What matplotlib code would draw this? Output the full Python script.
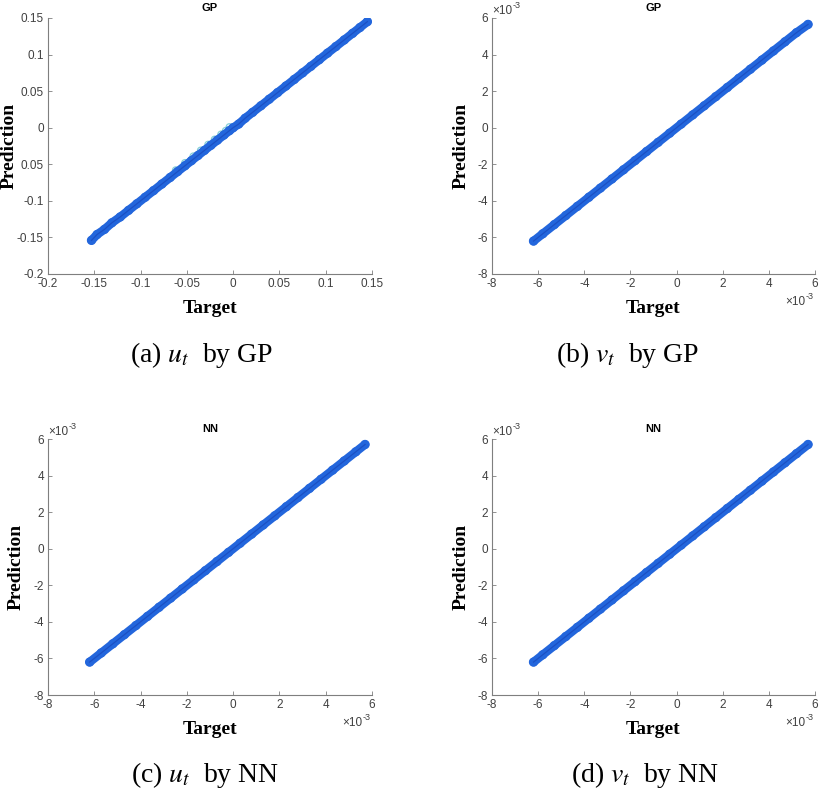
import numpy as np
import matplotlib.pyplot as plt

plt.rcParams['mathtext.fontset'] = 'stix'

# (a) u_t by GP
gp_u_target = [-0.153, -0.147, -0.139, -0.131, -0.122, -0.113, -0.104, -0.095, -0.086,
               -0.077, -0.068, -0.060, -0.052, -0.045, -0.038, -0.031, -0.024, -0.017,
               -0.010, -0.004, 0.000, 0.006, 0.013, 0.021, 0.030, 0.039, 0.048, 0.057,
               0.066, 0.075, 0.084, 0.093, 0.102, 0.111, 0.120, 0.129, 0.137, 0.145]
gp_u_pred = [-0.154, -0.146, -0.139, -0.130, -0.122, -0.113, -0.104, -0.095, -0.086,
             -0.077, -0.068, -0.060, -0.052, -0.045, -0.038, -0.031, -0.024, -0.017,
             -0.010, -0.004, 0.000, 0.005, 0.013, 0.021, 0.030, 0.039, 0.048, 0.057,
             0.066, 0.075, 0.084, 0.093, 0.102, 0.111, 0.120, 0.129, 0.137, 0.145]
gp_u_out_target = [-0.062, -0.052, -0.043, -0.035, -0.027, -0.020, -0.013, -0.008, -0.004]
gp_u_out_pred = [-0.058, -0.048, -0.039, -0.031, -0.023, -0.016, -0.009, -0.004, 0.001]

# (b), (c), (d): values in units of 1e-3
gp_v_target = [-6.2, -5.8, -5.3, -4.8, -4.3, -3.8, -3.3, -2.8, -2.3, -1.8, -1.3, -0.8,
               -0.3, 0.2, 0.7, 1.2, 1.7, 2.2, 2.7, 3.2, 3.7, 4.2, 4.7, 5.2, 5.7]
gp_v_pred = [-6.2, -5.8, -5.3, -4.8, -4.3, -3.8, -3.3, -2.8, -2.3, -1.8, -1.3, -0.8,
             -0.3, 0.2, 0.7, 1.2, 1.7, 2.2, 2.7, 3.2, 3.7, 4.2, 4.7, 5.2, 5.65]
nn_u_target = [-6.2, -5.7, -5.2, -4.7, -4.2, -3.7, -3.2, -2.7, -2.2, -1.7, -1.2, -0.7,
               -0.2, 0.3, 0.8, 1.3, 1.8, 2.3, 2.8, 3.3, 3.8, 4.3, 4.8, 5.3, 5.7]
nn_u_pred = [-6.2, -5.7, -5.2, -4.7, -4.2, -3.7, -3.2, -2.7, -2.2, -1.7, -1.2, -0.7,
             -0.2, 0.3, 0.8, 1.3, 1.8, 2.3, 2.8, 3.3, 3.8, 4.3, 4.8, 5.3, 5.7]
nn_v_target = [-6.2, -5.8, -5.3, -4.8, -4.3, -3.8, -3.3, -2.8, -2.3, -1.8, -1.3, -0.8,
               -0.3, 0.2, 0.7, 1.2, 1.7, 2.2, 2.7, 3.2, 3.7, 4.2, 4.7, 5.2, 5.7]
nn_v_pred = [-6.2, -5.8, -5.3, -4.8, -4.3, -3.8, -3.3, -2.8, -2.3, -1.8, -1.3, -0.8,
             -0.3, 0.2, 0.7, 1.2, 1.7, 2.2, 2.7, 3.2, 3.7, 4.2, 4.7, 5.2, 5.7]

u_ticks = [-0.2, -0.15, -0.1, -0.05, 0, 0.05, 0.1, 0.15]
u_xlabels = ['-0.2', '-0.15', '-0.1', '-0.05', '0', '0.05', '0.1', '0.15']
u_ylabels = ['-0.2', '-0.15', '-0.1', '0.05', '0', '0.05', '0.1', '0.15']
v_ticks = [-8, -6, -4, -2, 0, 2, 4, 6]
v_labels = ['-8', '-6', '-4', '-2', '0', '2', '4', '6']

blue = '#2366dc'
dark = '#1b50c4'
gray = '#7f7f7f'
tick_col = '#404040'

fig = plt.figure(figsize=(8.25, 7.99), dpi=100)

W, H = 825, 799
boxes = {'a': (48, 18, 372, 274), 'b': (492, 18, 815, 274),
         'c': (48, 439, 372, 695), 'd': (492, 439, 815, 695)}
# right edge of the rotated "Prediction" label, in axes fraction
ylab_x = {'a': -0.093, 'b': -0.068, 'c': -0.071, 'd': -0.068}


def make_ax(key):
    x0, y0, x1, y1 = boxes[key]
    ax = fig.add_axes([x0 / W, 1 - y1 / H, (x1 - x0) / W, (y1 - y0) / H])
    for s in ['top', 'right']:
        ax.spines[s].set_visible(False)
    for s in ['left', 'bottom']:
        ax.spines[s].set_color(gray)
        ax.spines[s].set_linewidth(0.8)
    ax.tick_params(direction='in', length=3, width=0.6, color=gray,
                   labelsize=8.5, labelcolor=tick_col, pad=3)
    return ax


def draw(ax, key, t, p, title):
    ax.plot(t, p, color=blue, lw=6.2, solid_capstyle='round', zorder=2)
    ax.scatter(t, p, s=28, facecolors='none', edgecolors=blue, linewidths=1.4, zorder=3)
    ax.plot(t, p, color=dark, lw=0.9, zorder=4)
    ax.set_title(title, fontsize=8, fontweight='bold', family='Liberation Sans', pad=5)
    ax.set_xlabel('Target', fontsize=14, fontweight='bold', family='Liberation Serif')
    ax.set_ylabel('Prediction', fontsize=14, fontweight='bold', family='Liberation Serif')
    ax.xaxis.set_label_coords(0.5, -0.10)
    ax.yaxis.set_label_coords(ylab_x[key], 0.5)


def scale_marks(ax):
    # "x10^-3" exponent labels, drawn as plain sans text
    for xa, ya, ha, va in [(0.0, 1.005, 'left', 'bottom'), (0.97, -0.085, 'right', 'top')]:
        t = ax.text(xa, ya, '\u00d710', transform=ax.transAxes, fontsize=8.5,
                    color=tick_col, ha=ha, va=va, family='Liberation Sans')
        ax.annotate('-3', xy=(1, 1), xycoords=t, fontsize=6.5, color=tick_col,
                    ha='left', va='top', family='Liberation Sans',
                    xytext=(0, 3), textcoords='offset points')


ax = make_ax('a')
draw(ax, 'a', gp_u_target, gp_u_pred, 'GP')
ax.scatter(gp_u_out_target, gp_u_out_pred, s=22, facecolors='none', edgecolors='#86cfd8',
           linewidths=0.9, zorder=1)
ax.set_xlim(-0.2, 0.15)
ax.set_ylim(-0.2, 0.15)
ax.set_xticks(u_ticks)
ax.set_xticklabels(u_xlabels)
ax.set_yticks(u_ticks)
ax.set_yticklabels(u_ylabels)

for key, t, p, title in [('b', gp_v_target, gp_v_pred, 'GP'),
                         ('c', nn_u_target, nn_u_pred, 'NN'),
                         ('d', nn_v_target, nn_v_pred, 'NN')]:
    ax = make_ax(key)
    draw(ax, key, t, p, title)
    ax.set_xlim(-8, 6)
    ax.set_ylim(-8, 6)
    ax.set_xticks(v_ticks)
    ax.set_xticklabels(v_labels)
    ax.set_yticks(v_ticks)
    ax.set_yticklabels(v_labels)
    scale_marks(ax)

for a in fig.axes:
    for lab in a.get_xticklabels() + a.get_yticklabels():
        lab.set_fontfamily('Liberation Sans')

plt.rcParams['mathtext.default'] = 'it'
caps = [(202, 355, '(a) $u_t$  by GP'), (628, 355, '(b) $v_t$  by GP'),
        (205, 775, '(c) $u_t$  by NN'), (645, 775, '(d) $v_t$  by NN')]
for cx, cy, s in caps:
    fig.text(cx / W, 1 - cy / H, s, fontsize=20, family='Liberation Serif',
             ha='center', va='center')

fig.savefig('out.png', dpi=100)
